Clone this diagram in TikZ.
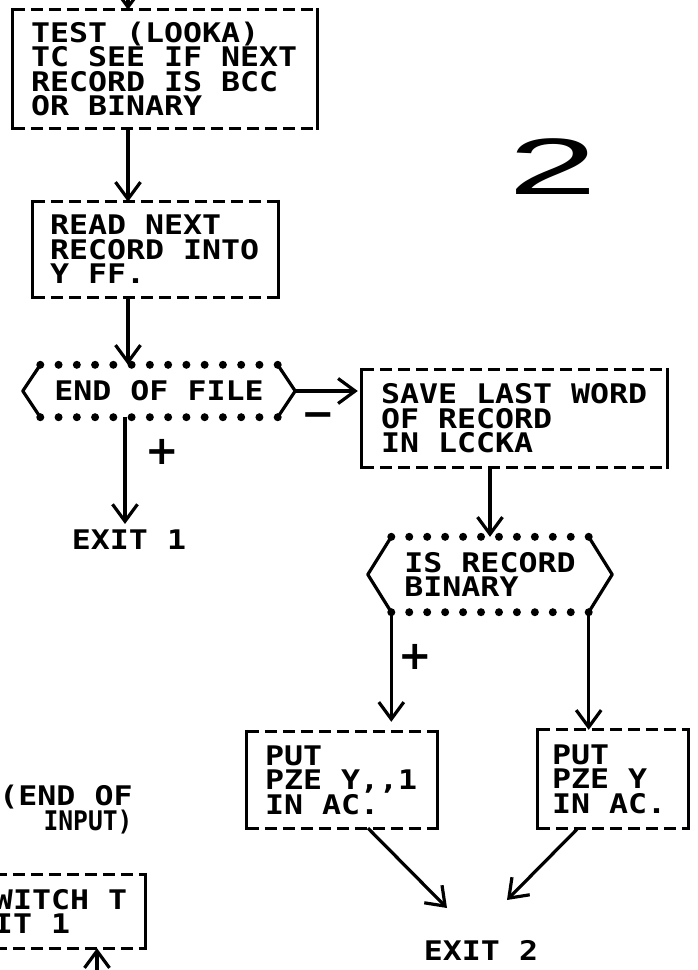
\documentclass[tikz,border=0pt]{standalone}
\usepackage{fontspec}
\usetikzlibrary{arrows.meta,calc}
\newfontfamily\lpfont{DejaVu Sans Mono}[FakeStretch=1.17]
\newfontfamily\markfont{DejaVu Sans}
\newfontfamily\twofont{Liberation Sans}
\newcommand\lp{\lpfont\bfseries\fontsize{27}{24.5}\selectfont\lineskiplimit=-50pt}
\tikzset{
  edge/.style={line width=3.2pt, line join=round},
  dashline/.style={line width=3.2pt, dash pattern=on 12pt off 6pt},
  sideline/.style={line width=3.2pt},
  pbox/.style={font=\lp, align=left, inner ysep=0pt,
    execute at begin node={\spaceskip=\fontcharwd\font`X\relax\xspaceskip=\spaceskip}},
  decis/.style={font=\lp, align=left, inner sep=0pt},
  lbl/.style={font=\lp, inner sep=0pt},
  sign/.style={font=\markfont\bfseries\fontsize{40}{40}\selectfont, inner sep=0pt},
  arr/.style={line width=3.2pt, -{Straight Barb[length=17pt,width=25pt,line width=3.2pt]}}
}
\newcommand\boxedges[1]{%
  \draw[dashline] (#1.north west) -- (#1.north east);
  \draw[dashline] (#1.south west) -- (#1.south east);
  \draw[sideline] ($(#1.north west)+(0,-2)$) -- ($(#1.south west)+(0,2)$);
  \draw[sideline] ($(#1.north east)+(0,-2)$) -- ($(#1.south east)+(0,2)$);
}
\newcommand\hexedges[3]{%
  \coordinate (#1tl) at ($(#1.north west)+(#2,0)$);
  \coordinate (#1tr) at ($(#1.north east)+(-#2,0)$);
  \coordinate (#1bl) at ($(#1.south west)+(#2,0)$);
  \coordinate (#1br) at ($(#1.south east)+(-#2,0)$);
  \draw[edge] (#1tl) -- (#1.west) -- (#1bl);
  \draw[edge] (#1tr) -- (#1.east) -- (#1br);
  \foreach \i in {0,...,#3}{
    \fill ($(#1tl)!\i/#3!(#1tr)$) circle[radius=4pt];
    \fill ($(#1bl)!\i/#3!(#1br)$) circle[radius=4pt];
  }
}
\begin{document}
\begin{tikzpicture}[x=1pt,y=-1pt]
\useasboundingbox (0,0) rectangle (697,970);
\fill[white] (0,0) rectangle (697,970);

% process boxes
\node[pbox, inner xsep=18pt, text width=268pt, minimum height=118pt] (top) at (165,69)
  {TEST (LOOKA)\\TC SEE IF NEXT\\RECORD IS BCC\\OR BINARY};
\node[pbox, inner xsep=17pt, text width=211pt, minimum height=95pt] (read) at (155.5,249.5)
  {READ NEXT\\RECORD INTO\\Y FF.};
\node[pbox, inner xsep=19pt, text width=267pt, minimum height=97pt] (save) at (514.5,418.5)
  {SAVE LAST WORD\\OF RECORD\\IN LCCKA};
\node[pbox, inner xsep=18pt, text width=154pt, minimum height=96pt] (putl) at (342,780)
  {PUT\\PZE Y,,1\\IN AC.};
\node[pbox, inner xsep=14pt, text width=122pt, minimum height=98pt] (putr) at (613,779)
  {PUT\\PZE Y\\IN AC.};
\node[pbox, inner xsep=17pt, text width=134pt, minimum height=73pt] (sw) at (61,911.5)
  {WITCH T\\IT 1};
\boxedges{top}
\boxedges{read}
\boxedges{save}
\boxedges{putl}
\boxedges{putr}
\boxedges{sw}

% decision hexagons
\node[decis, minimum width=272pt, minimum height=52pt] (hex1) at (159,391) {END OF FILE};
\node[decis, minimum width=244pt, minimum height=75pt] (hex2) at (490,574.5) {IS RECORD\\BINARY};
\hexedges{hex1}{17.5}{13}
\hexedges{hex2}{23.5}{11}

% terminal labels
\node[lbl] (exit1) at (129,540) {EXIT 1};
\node[lbl] (exit2) at (481,950) {EXIT 2};
\node[lbl, align=right] (eoi) at (66,809.5) {(END OF\\\scalebox{0.78}[1]{INPUT)}};
\node[font=\twofont\fontsize{80}{80}\selectfont, inner sep=0pt] (two) at (553,167) {\scalebox{2.0}[1]{2}};

% signs
\node[sign] (plus1) at (162,452) {+};
\node[sign] (minus) at (318,420) {−};
\node[sign] (plus2) at (415,657) {+};

% connectors
\coordinate (in0) at (128,-20);
\draw[arr] (in0) -- (in0 |- top.north);
\draw[arr] (in0 |- top.south) -- (in0 |- read.north);
\draw[arr] (in0 |- read.south) -- (in0 |- hex1.north);
\coordinate (c2) at (125,0);
\draw[arr, shorten >=6pt] (c2 |- hex1.south) -- (c2 |- exit1.north);
\draw[arr, shorten >=4pt] (hex1.east) -- (hex1.east -| save.west);
\draw[arr] (save.south -| hex2.north) -- (hex2.north);
\draw[arr, shorten >=10pt] (hex2bl) -- (hex2bl |- putl.north);
\draw[arr] (hex2br) -- (hex2br |- putr.north);
\coordinate (e2l) at ($(exit2)+(-34,-42)$);
\coordinate (e2r) at ($(exit2)+(26,-50)$);
\draw[arr] ($(putl.south)+(26,0)$) -- (e2l);
\draw[arr] ($(putr.south)+(-35,0)$) -- (e2r);
\coordinate (sw0) at (97,990);
\draw[arr] (sw0) -- (sw0 |- sw.south);
\end{tikzpicture}
\end{document}
